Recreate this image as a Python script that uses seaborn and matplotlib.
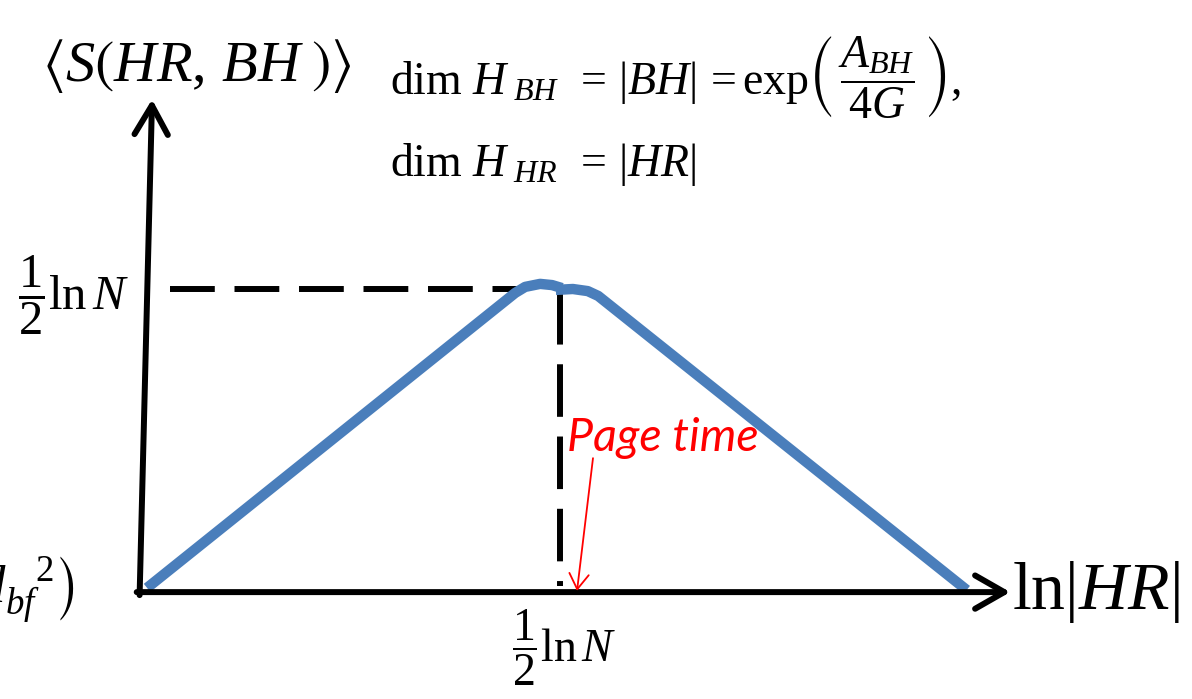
import matplotlib
matplotlib.use("Agg")
import matplotlib.pyplot as plt
import pandas as pd
import seaborn as sns

# Page curve of the Hawking radiation entropy, in units where the Page time
# (1/2 ln N) equals 1 on both axes
rise_x = [0.005, 0.892, 0.916, 0.952, 0.981, 1.005]
rise_y = [0.007, 0.987, 1.007, 1.017, 1.013, 1.003]
fall_x = [0.990, 1.031, 1.067, 1.092, 1.980]
fall_y = [0.997, 1.000, 0.993, 0.977, 0.000]
page_time = 1.0
max_entropy = 1.0

W, H = 1192, 699
sns.set_theme(style="white")
# Times-like math: Liberation Serif glyphs, STIX for brackets and big delimiters
plt.rcParams.update({
    "mathtext.fontset": "custom",
    "mathtext.rm": "Liberation Serif",
    "mathtext.it": "Liberation Serif:italic",
    "mathtext.bf": "Liberation Serif:bold",
    "mathtext.fallback": "stix",
    "text.color": "black",
})
plt.rcParams["font.family"] = ["Lato", "DejaVu Sans"]

fig = plt.figure(figsize=(W / 100, H / 100), dpi=100)
ax = fig.add_axes([0, 0, 1, 1])
ax.set_axis_off()
# scale: origin sits at (145, 590) px, one unit = 415 px across, 301 px up
ax.set_xlim(-145 / 415, (W - 145) / 415)
ax.set_ylim(-(H - 590) / 301, 590 / 301)

curve = pd.DataFrame({
    "x": rise_x + fall_x,
    "y": rise_y + fall_y,
    "branch": ["rise"] * len(rise_x) + ["fall"] * len(fall_x),
})
sns.lineplot(data=curve, x="x", y="y", units="branch", estimator=None,
             sort=False, color="#4A7EBB", lw=7.5, solid_capstyle="butt",
             solid_joinstyle="round", ax=ax, legend=False, zorder=3)

# dashed guides to the maximum and the Page time
ax.plot([0.06, 0.9], [max_entropy, max_entropy], color="black", lw=4.3,
        linestyle=(0, (7.5, 3.3)), solid_capstyle="butt", zorder=2)
ax.plot([page_time, page_time], [max_entropy - 0.01, 0.013], color="black",
        lw=4.3, linestyle=(0, (8.8, 3.3)), zorder=2)

# axes as arrows
axis_kw = dict(arrowstyle="->,head_length=1.05,head_width=0.6", lw=4.3,
               color="black", mutation_scale=20, shrinkA=0, shrinkB=0,
               capstyle="round", joinstyle="round")
ax.annotate("", xy=(2.085, -0.007), xytext=(-0.02, -0.007),
            arrowprops=axis_kw, zorder=4)
ax.annotate("", xy=(0.017, 1.63), xytext=(-0.013, -0.017),
            arrowprops=axis_kw, zorder=4)

# Page time marker
ax.annotate("", xy=(1.041, -0.003), xytext=(1.0795, 0.438),
            arrowprops=dict(arrowstyle="->,head_length=0.55,head_width=0.35",
                            lw=1.3, color="red", mutation_scale=20,
                            shrinkA=0, shrinkB=0), zorder=5)


def label(px, py, s, size, **kw):
    fig.text(px / W, 1 - py / H, s, fontsize=size, va="center", **kw)


label(42, 66, r"$\langle S\left(HR,\,BH\;\right)\rangle$", 42)
label(390, 78, r"$\mathrm{dim}\ H_{\ BH}\ \,=\,|BH|\,=\mathrm{exp}\left(\,\dfrac{A_{BH}}{4G}\,\right),$", 33)
label(390, 165, r"$\mathrm{dim}\ H_{\ HR}\ \,=\,|HR|$", 33)
label(18, 295, r"$\dfrac{1}{2}\ln N$", 35)
label(512, 648, r"$\dfrac{1}{2}\ln N$", 33)
label(1012, 592, r"$\ln|HR|$", 49)
label(74, 590, r"$\ln\left(d_{bf}^{\quad 2}\right)$", 38, ha="right")
label(567, 438, "Page time", 33.5, color="red", style="italic")

fig.savefig("out.png", dpi=100)
